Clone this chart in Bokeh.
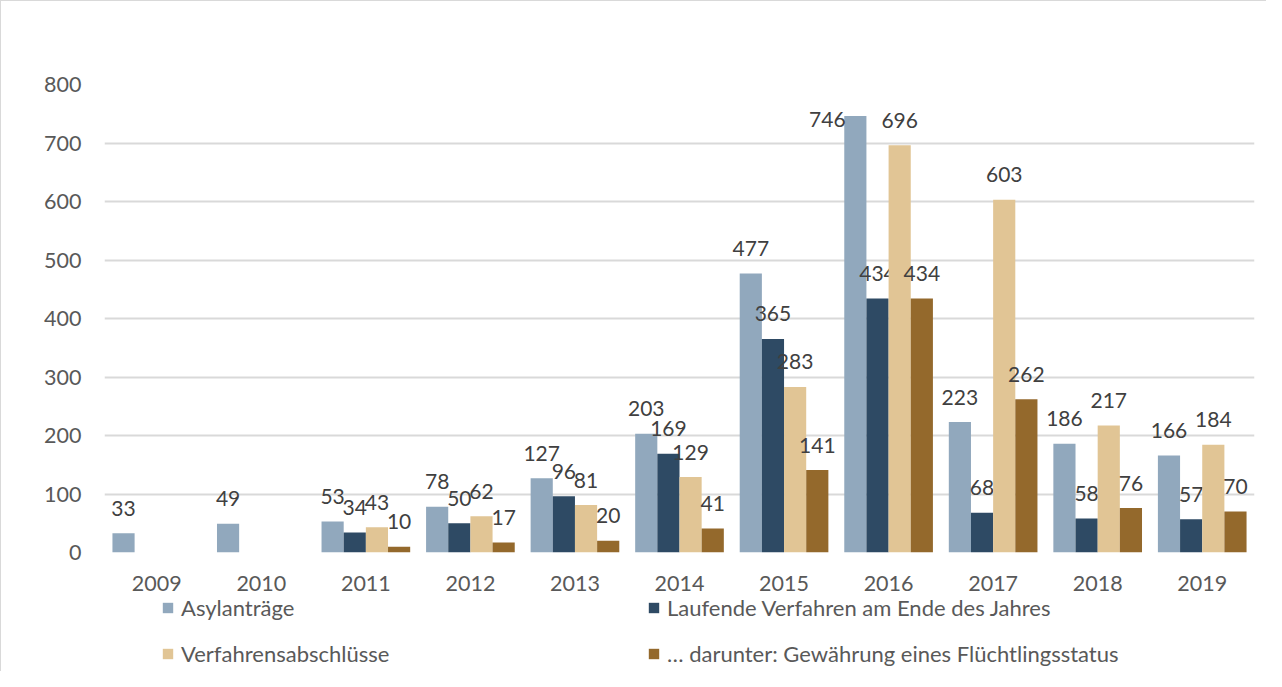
import math
from bokeh.plotting import figure
from bokeh.layouts import column
from bokeh.models import (ColumnDataSource, FactorRange, Range1d, FixedTicker,
                          Legend, LegendItem)
from bokeh.transform import dodge
from bokeh.core.properties import value
from bokeh.embed import file_html
from bokeh.resources import INLINE

# ---------------- data ----------------
years = ["2009", "2010", "2011", "2012", "2013", "2014", "2015", "2016", "2017", "2018", "2019"]
asylantraege = [33, 49, 53, 78, 127, 203, 477, 746, 223, 186, 166]
laufende = [None, None, 34, 50, 96, 169, 365, 434, 68, 58, 57]
abschluesse = [None, None, 43, 62, 81, 129, 283, 696, 603, 217, 184]
fluechtlingsstatus = [None, None, 10, 17, 20, 41, 141, 434, 262, 76, 70]
series_names = ["Asylanträge", "Laufende Verfahren am Ende des Jahres",
                "Verfahrensabschlüsse", "… darunter: Gewährung eines Flüchtlingsstatus"]
y_ticks = [0, 100, 200, 300, 400, 500, 600, 700, 800]

# ---------------- style ----------------
colors = ["#91A8BD", "#2E4A64", "#E1C595", "#94692C"]
FONT = "Lato"
FS = "21.5px"
LFS = "21px"
LEGFS = "22px"
bar_w = 0.212
offsets = [-1.5 * bar_w, -0.5 * bar_w, 0.5 * bar_w, 1.5 * bar_w]

W = 1265
H1, H2 = 594, 76
BL, BR = 103, 12

# ---------------- chart ----------------
p = figure(x_range=FactorRange(*years, range_padding=0), y_range=Range1d(0, 800),
           width=W, height=H1, output_backend="svg", toolbar_location=None,
           min_border_left=BL, min_border_right=BR, min_border_top=83,
           min_border_bottom=43)
p.outline_line_color = None
p.background_fill_color = "white"
p.border_fill_color = "white"

p.xgrid.grid_line_color = None
p.ygrid.grid_line_color = "#d9d9d9"
p.ygrid.grid_line_width = 1.8

p.yaxis.ticker = FixedTicker(ticks=y_ticks)
for ax in (p.xaxis[0], p.yaxis[0]):
    ax.axis_line_color = None
    ax.major_tick_line_color = None
    ax.minor_tick_line_color = None
    ax.major_label_text_font = FONT
    ax.major_label_text_font_size = FS
    ax.major_label_text_color = "#595959"
p.yaxis.major_label_standoff = 17
p.xaxis.major_label_standoff = 17

all_series = [asylantraege, laufende, abschluesse, fluechtlingsstatus]
for i, (vals, col, off) in enumerate(zip(all_series, colors, offsets)):
    tops = [float("nan") if v is None else v for v in vals]
    src = ColumnDataSource(dict(year=years, top=tops))
    p.vbar(x=dodge("year", off, range=p.x_range), top="top", width=bar_w,
           source=src, fill_color=col, line_color=None)

    ly, lv, lt, xo, yo = [], [], [], [], []
    for y, v in zip(years, vals):
        if v is None:
            continue
        ly.append(y)
        lv.append(v)
        lt.append(str(v))
        # Excel moved the 746 label beside its bar (it would exceed the plot)
        if v == 746:
            xo.append(-28)
            yo.append(3)
        else:
            xo.append(0)
            yo.append(-25)
    lsrc = ColumnDataSource(dict(year=ly, val=lv, txt=lt, xo=xo, yo=yo))
    p.text(x=dodge("year", off, range=p.x_range), y="val", text="txt",
           x_offset="xo", y_offset="yo", source=lsrc,
           text_font=value(FONT), text_font_size=LFS, text_color="#404040",
           text_align="center", text_baseline="middle")

# ---------------- legend strip ----------------
p2 = figure(width=W, height=H2, output_backend="svg", toolbar_location=None,
            x_axis_location=None, y_axis_location=None,
            x_range=Range1d(0, 1), y_range=Range1d(0, 1),
            min_border_left=BL, min_border_right=BR, min_border_top=0,
            min_border_bottom=0)
p2.outline_line_color = None
p2.grid.grid_line_color = None
p2.background_fill_color = "white"
p2.border_fill_color = "white"

# legend-only swatch renderers (no visible marks)
swatches = []
for col in colors:
    s = ColumnDataSource(dict(x=[float("nan")], top=[float("nan")]))
    swatches.append(p2.vbar(x="x", top="top", width=0.1, source=s,
                            fill_color=col, line_color=None))

def make_legend(idx, loc):
    items = [LegendItem(label=series_names[i], renderers=[swatches[i]]) for i in idx]
    lg = Legend(items=items, location=loc, orientation="vertical",
                glyph_width=13, glyph_height=13, label_standoff=7,
                label_height=26, spacing=19, padding=0, margin=0,
                border_line_color=None, background_fill_alpha=0,
                label_text_font=FONT, label_text_font_size=LEGFS,
                label_text_color="#595959", label_text_baseline="middle")
    p2.add_layout(lg, "center")

make_legend([0, 2], (57, 4))
make_legend([1, 3], (543, 4))

layout = column(p, p2, spacing=0,
                styles={"border-top": "1px solid #d9d9d9",
                        "border-left": "1px solid #d9d9d9"})

open("out.html", "w").write(file_html(layout, INLINE))
